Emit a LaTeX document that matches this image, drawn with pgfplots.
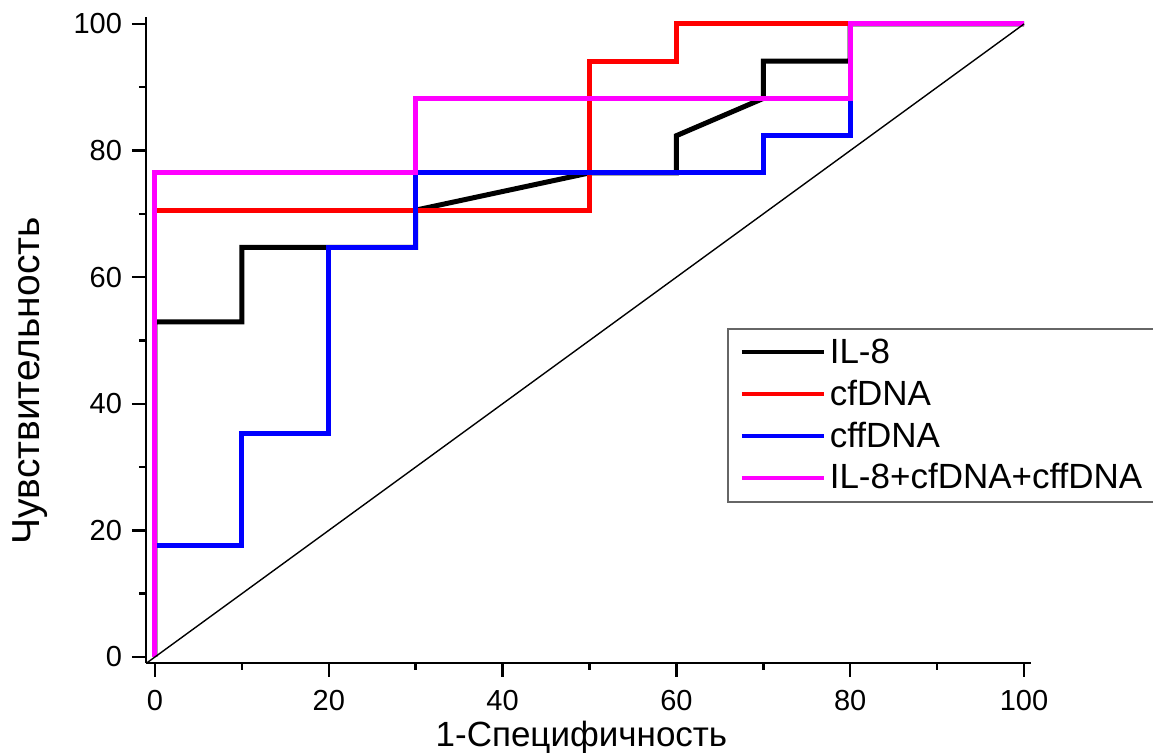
\documentclass[border=0pt]{standalone}
\usepackage{fontspec}
\setmainfont{Liberation Sans}
\usepackage{pgfplots}
\pgfplotsset{compat=1.18}
\definecolor{magc}{RGB}{255,0,255}
\begin{document}
\begin{tikzpicture}
\useasboundingbox (-73pt,-45pt) rectangle (503.5pt,331.5pt);
\begin{axis}[
  scale only axis, width=442.5pt, height=323pt,
  xmin=-1.03, xmax=100.8, ymin=-0.95, ymax=101.1,
  axis lines=left, axis line style={-, line width=1.2pt},
  xtick={0,20,...,100}, ytick={0,20,...,100},
  minor x tick num=1, minor y tick num=1,
  tick align=outside, major tick length=7pt, minor tick length=3.5pt,
  every tick/.style={black, line width=1.2pt},
  ticklabel style={font=\fontsize{14.5}{16}\selectfont},
  xticklabel style={yshift=-3pt},
  yticklabel style={xshift=-1.5pt},
  /pgf/number format/assume math mode=true,
  xlabel={1-Специфичность}, ylabel={Чувствительность},
  xlabel style={font=\fontsize{17.5}{20}\selectfont, at={(axis description cs:0.492,0)}, anchor=base, yshift=-42pt},
  ylabel style={font=\fontsize{19.5}{22}\selectfont, at={(axis description cs:-0.131,0.4365)}, anchor=center},
  legend style={at={(0.6565,0.5186)}, anchor=north west, draw=black!60, line width=0.8pt,
    font=\fontsize{17.5}{21}\selectfont, row sep=2.8pt, inner xsep=6pt, inner ysep=3pt},
  legend cell align=left,
  legend image code/.code={\draw[#1, line width=2pt] (0pt,0pt) -- (41pt,0pt);},
]
\addplot[black, line width=2.5pt] coordinates {(0,0) (0,52.94) (10,52.94) (10,64.71) (30,64.71) (30,70.59) (50,76.47) (60,76.47) (60,82.35) (70,88.24) (70,94.12) (80,94.12) (80,100) (100,100)};
\addlegendentry{IL-8}
\addplot[red, line width=2.5pt] coordinates {(0,0) (0,70.59) (50,70.59) (50,94.12) (60,94.12) (60,100) (100,100)};
\addlegendentry{cfDNA}
\addplot[blue, line width=2.5pt] coordinates {(0,0) (0,17.65) (10,17.65) (10,35.29) (20,35.29) (20,64.71) (30,64.71) (30,76.47) (70,76.47) (70,82.35) (80,82.35) (80,100) (100,100)};
\addlegendentry{cffDNA}
\addplot[magc, line width=2.5pt] coordinates {(0,0) (0,76.47) (30,76.47) (30,88.24) (80,88.24) (80,100) (100,100)};
\addlegendentry{IL-8+cfDNA+cffDNA}
\addplot[black, line width=0.7pt, forget plot] coordinates {(-1,-1) (100,100)};
\end{axis}
\end{tikzpicture}
\end{document}
